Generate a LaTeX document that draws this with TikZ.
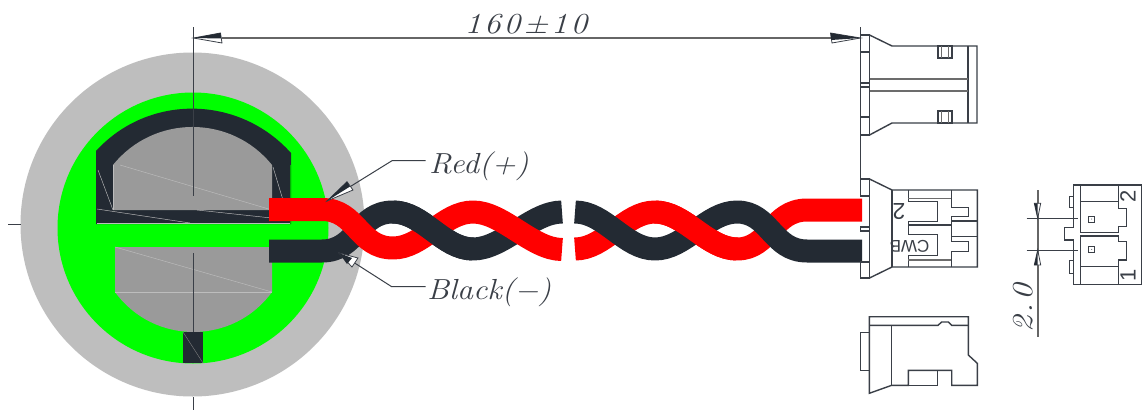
\documentclass[tikz,border=0pt]{standalone}
\usepackage{fontspec}
\setsansfont{Liberation Sans}
\definecolor{ink}{HTML}{232A33}
\definecolor{lineink}{HTML}{3A3F47}
\definecolor{disc}{HTML}{BEBEBE}
\definecolor{core}{HTML}{9A9A9A}
\definecolor{hair}{HTML}{BDBDBD}
\tikzset{
  part/.style={draw=lineink,line width=1.4pt,line join=miter},
  soft/.style={draw=gray!85!black,line width=1.9pt},
  thin/.style={draw=lineink,line width=1pt},
  dimline/.style={draw=gray!80!black,line width=1.6pt},
  hairline/.style={draw=hair,line width=0.45pt},
  wire/.style={line width=23pt,line cap=butt,line join=round},
  headbox/.style={draw=lineink,fill=white,line width=0.8pt},
  headfill/.style={fill=ink},
  lbl/.style={inner sep=0pt,text=lineink},
}
\newcommand{\cadtext}[3]{\scalebox{#3}[1]{\fontsize{#1}{#1}\selectfont\itshape #2}}
\newcommand{\gapk}{\kern2.5pt}
\begin{document}
\begin{tikzpicture}[x=1pt,y=-1pt]
\useasboundingbox (0,0) rectangle (1144,410);
\fill[white] (0,0) rectangle (1144,410);

% disc
\fill[disc] (192.5,224.5) circle (172);
\fill[green] (193,228) circle (135.5);

% upper dark frame with grey core
\fill[ink] (96,151) .. controls (148.3,93.7) and (238.7,94.7) .. (291,153) -- (291,224) -- (96,224) -- cycle;
\fill[core] (113,165) .. controls (153.8,114.3) and (231.2,114.3) .. (272,165) -- (272,210) -- (113,210) -- cycle;
\draw[hairline] (113,165) -- (113,210);
\draw[hairline] (120,165) -- (272,210);
\draw[hairline] (98,170) -- (113,210);
\draw[hairline] (273,167) -- (286,210);
\draw[hairline] (97,209) -- (190,223);
\draw[hairline] (197,210) -- (290,220);
\draw[hairline] (97,223) -- (291,223);
\draw[green!70!black,line width=0.6pt] (290,165) -- (290,224);

% lower grey core
\fill[core] (115,247) -- (272,247) -- (272,292) .. controls (233.3,345.3) and (153.7,345.3) .. (115,292) -- cycle;
\draw[hairline] (115,247) -- (272,292);
\draw[hair,line width=0.8pt] (115,292) -- (272,292);

% tab
\fill[ink] (183,332) -- (203,332) -- (203,363) -- (183,363) -- cycle;
\draw[gray,line width=0.4pt] (183,332) -- (203,363);

% centre lines
\draw[thin] (193.5,27) -- (193.5,196);
\draw[thin] (193.5,253) -- (193.5,332);
\draw[thin] (193.5,397) -- (193.5,410);
\draw[thin] (8,224.5) -- (21,224.5);

% twisted pair, left part
\draw[ink,wire] (269,251) -- (322,251) .. controls (357,251) and (358,212) .. (393,212)
   .. controls (423,212) and (443,249) .. (473,249) .. controls (503,249) and (532,212) .. (562,212);
\draw[red,wire] (269,209.5) -- (322,209.5) .. controls (357,209.5) and (358,248) .. (393,248)
   .. controls (423,248) and (443,212) .. (473,212) .. controls (503,212) and (532,249.5) .. (562,249.5);
\draw[ink,wire] (393,212) .. controls (423,212) and (443,249) .. (473,249);

% twisted pair, right part
\draw[red,wire] (575,249) .. controls (605,249) and (625,212) .. (655,212)
   .. controls (685,212) and (707,249) .. (737,249) .. controls (770,249) and (772,210) .. (807,210) -- (862,210);
\draw[ink,wire] (575,212) .. controls (605,212) and (625,249) .. (655,249)
   .. controls (685,249) and (707,212) .. (737,212) .. controls (770,212) and (772,251) .. (807,251) -- (862,251);
\draw[red,wire] (655,212) .. controls (685,212) and (707,249) .. (737,249);

% top dimension
\coordinate (dimL) at (193.5,38);
\coordinate (dimR) at (860.5,38);
\node[lbl] (dimtext) at (526,24) {\cadtext{29}{1\gapk 6\gapk 0\gapk ±\gapk 1\gapk 0}{1.15}};
\draw[dimline] (222,38) -- (831,38);
\draw[headbox] (dimL) -- (220.5,33) -- (222,43) -- cycle;
\fill[headfill] (dimL) -- (220.5,33) -- (221.3,38.5) -- cycle;
\draw[headbox] (dimR) -- (830.5,33) -- (832,43) -- cycle;
\fill[headfill] (dimR) -- (830.5,33) -- (831.3,40) -- cycle;
\draw[thin] (860.7,27) -- (860.7,179);

% leaders
\coordinate (redTip) at (327,201);
\coordinate (redKnee) at (392,160.7);
\coordinate (blackTip) at (339,253);
\coordinate (blackKnee) at (391.7,286.7);
\node[lbl,anchor=west] (redlabel) at (429,166) {\cadtext{29}{Red(+)}{1.1}};
\node[lbl,anchor=west] (blacklabel) at (427,292) {\cadtext{29}{Black(−)}{1.1}};
\draw[thin] (redTip) -- (redKnee) -- (425.7,160.7);
\draw[thin] (blackTip) -- (blackKnee) -- (425.7,286.7);
\draw[headbox] (redTip) -- (347,181.7) -- (353,190) -- cycle;
\fill[headfill] (redTip) -- (347,181.7) -- (350,186.5) -- cycle;
\draw[headbox] (blackTip) -- (358,258) -- (352,267) -- cycle;
\fill[headfill] (blackTip) -- (352,258) -- (347,264) -- cycle;

% top connector
\draw[part] (860.7,35) rectangle (869.5,135);
\draw[part] (860.7,52) -- (869.5,52) (860.7,83) -- (869.5,83) (860.7,87) -- (869.5,87) (860.7,117) -- (869.5,117);
\draw[part] (869.5,35) -- (892,46) -- (977,46) -- (977,123) -- (892,123) -- (869.5,135);
\draw[part] (968,46) -- (968,123);
\draw[soft] (869.5,79) -- (968,79) (869.5,90.7) -- (968,90.7);
\draw[part] (938,46) rectangle (952,58);
\draw[part] (938,111) rectangle (952,123);
\draw[soft,line width=1pt] (941,46) -- (941,58) (948,46) -- (948,58) (941,111) -- (941,123) (948,111) -- (948,123);

% middle connector
\draw[part] (860.7,179) rectangle (869.5,196);
\draw[part] (860.7,227) rectangle (869.5,231);
\draw[part] (860.7,262) rectangle (869.5,278);
\draw[part] (869.5,179) -- (869.5,278);
\draw[part] (869.5,179) -- (892,190) -- (977.3,190) -- (977.3,267) -- (892,267) -- (869.5,278);
\draw[part] (892,190) -- (892,267);
\draw[part] (908.3,190) -- (908.3,201.7) -- (937.7,201.7) -- (937.7,221.7) -- (908.3,221.7) -- (908.3,234.3) -- (937.7,234.3) -- (937.7,255.7) -- (908.3,255.7) -- (908.3,267);
\draw[part] (908.3,225) -- (951.7,225);
\draw[soft,line width=1.3pt] (908.3,198.3) -- (951.7,198.3) (908.3,260) -- (951.7,260);
\draw[part] (951.7,190) -- (951.7,207.7) -- (968.3,207.7) -- (968.3,216.7) -- (951.7,216.7) -- (951.7,241.7) -- (968.3,241.7) -- (968.3,251.7) -- (951.7,251.7) -- (951.7,267);
\draw[part] (951.7,221) -- (977.3,221) (951.7,236.7) -- (977.3,236.7);
\node[lbl,rotate=180] (mark2) at (899,212) {\fontsize{23}{23}\selectfont\sffamily 2};
\node[lbl,rotate=180] (markcwb) at (909.5,246) {\fontsize{17}{17}\selectfont\sffamily CWB};

% bottom connector
\draw[part] (869.3,316.7) -- (968.3,316.7) -- (968.3,355) -- (977.3,363.3) -- (977.3,385.3) -- (951.7,385.3) -- (951.7,370.3) -- (908.3,370.3) -- (908.3,385.3) -- (891.7,385.3) -- (869.3,393.3) -- cycle;
\draw[part] (869.3,325.3) -- (938,325.3) -- (941.7,322) -- (948.3,322) -- (951.7,325.3) -- (968.3,325.3);
\draw[part] (891.7,325.3) -- (891.7,385.3);
\draw[part] (937.7,370.3) -- (937.7,385.3);
\draw[part] (908.3,385.3) -- (937.7,385.3);
\draw[part] (869.3,332.3) -- (860.7,332.3) -- (860.7,370.3) -- (869.3,370.3);

% side connector
\draw[part] (1073.3,185) -- (1141.7,185) -- (1141.7,284.3) -- (1073.3,284.3) -- (1073.3,240) -- (1064.3,240) -- (1064.3,227.3) -- (1073.3,227.3) -- cycle;
\draw[part] (1080.5,185) -- (1080.5,232.3) -- (1118.3,232.3) -- (1118.3,226.7) -- (1126.7,226.7) -- (1126.7,208.3) -- (1118.3,208.3) -- (1118.3,185);
\draw[part] (1080.5,201.7) -- (1118.3,201.7);
\draw[part] (1080.5,284.3) -- (1080.5,236) -- (1118.3,236) -- (1118.3,241.7) -- (1126.7,241.7) -- (1126.7,260) -- (1118.3,260) -- (1118.3,284.3);
\draw[part] (1080.5,266.7) -- (1118.3,266.7);
\draw[part,line width=0.9pt] (1069.7,196) rectangle (1073.3,207.3);
\draw[part,line width=0.9pt] (1069.7,260.7) rectangle (1073.3,273.3);
\draw[part,line width=0.9pt] (1088.7,216) rectangle (1094.7,222);
\draw[part,line width=0.9pt] (1088.7,246.3) rectangle (1094.7,252.3);
\fill[lineink] (1091.7,219) circle (0.5) (1091.7,249.3) circle (0.5);
\node[lbl,rotate=90] (side2) at (1128,196) {\fontsize{22}{22}\selectfont\sffamily 2};
\node[lbl,rotate=90] (side1) at (1128,275) {\fontsize{22}{22}\selectfont\sffamily 1};

% pitch dimension
\coordinate (pitchA) at (1037.7,218.3);
\coordinate (pitchB) at (1037.7,250);
\draw[dimline] (1037.7,190) -- (1037.7,336.7);
\draw[thin] (1026.7,218.3) -- (1077.7,218.3);
\draw[thin] (1026.7,250) -- (1077.7,250);
\draw[headbox] (pitchA) -- (1034.3,203.3) -- (1040.7,203.3) -- cycle;
\fill[headfill] (pitchA) -- (1034.3,203.3) -- (1037.7,203.3) -- cycle;
\draw[headbox] (pitchB) -- (1034.3,265) -- (1040.7,265) -- cycle;
\fill[headfill] (pitchB) -- (1034.3,265) -- (1037.7,265) -- cycle;
\node[lbl,rotate=90] (pitchtext) at (1023,308) {\cadtext{29}{2\gapk .\gapk 0}{1.15}};
\end{tikzpicture}
\end{document}
